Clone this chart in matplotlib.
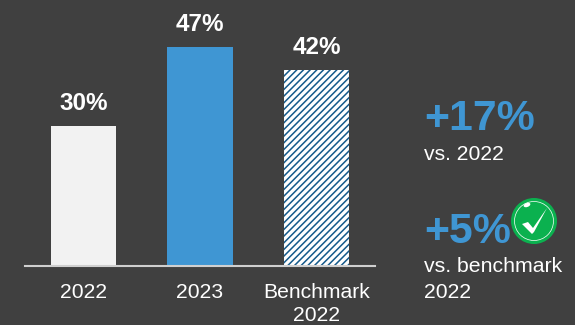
import matplotlib
matplotlib.use("Agg")
import matplotlib.pyplot as plt
from matplotlib.patches import Circle, Ellipse

plt.rcParams['font.family'] = ['Liberation Sans', 'DejaVu Sans']
plt.rcParams['hatch.linewidth'] = 1.1

categories = ["2022", "2023", "Benchmark\n2022"]
values = [30, 47, 42]
value_labels = ["30%", "47%", "42%"]

bg = "#404040"
blue = "#3f96d3"

fig = plt.figure(figsize=(5.75, 3.25), dpi=100, facecolor=bg)

# bar panel, bottom edge sits on the baseline
ax = fig.add_axes([25/575, (325-266)/325, 350/575, 266/325])
ax.set_facecolor("none")
ax.patch.set_alpha(0)

ax.bar(0, values[0], width=0.56, color="#f2f2f2")
ax.bar(1, values[1], width=0.56, color=blue)
ax.bar(2, values[2], width=0.56, facecolor="white", edgecolor="#14598a",
       hatch="/////", linewidth=0)

for i in range(len(values)):
    ax.text(i, values[i] + 2.3, value_labels[i], ha="center", va="bottom",
            color="white", fontsize=17.5, fontweight="bold")

ax.set_xlim(-0.5, 2.5)
ax.set_ylim(0, 57)
ax.set_yticks([])
ax.set_xticks(range(len(categories)))
ax.set_xticklabels(categories, color="white", fontsize=15.2, linespacing=1.32)
ax.tick_params(axis="x", length=0, pad=12)
for s in ["top", "left", "right"]:
    ax.spines[s].set_visible(False)
ax.spines["bottom"].set_color("#d0d0d0")
ax.spines["bottom"].set_linewidth(1.5)

# overlay in pixel units for the callouts on the right
ov = fig.add_axes([0, 0, 1, 1])
ov.set_xlim(0, 575)
ov.set_ylim(325, 0)
ov.axis("off")

ov.text(424, 119, "+17%", color=blue, fontsize=30.8, fontweight="bold", va="center", ha="left")
ov.text(424, 154, "vs. 2022", color="white", fontsize=15.2, va="center", ha="left")
ov.text(424, 232, "+5%", color=blue, fontsize=30.8, fontweight="bold", va="center", ha="left")
ov.text(424, 266, "vs. benchmark", color="white", fontsize=15.3, va="center", ha="left")
ov.text(424, 292, "2022", color="white", fontsize=15.2, va="center", ha="left")

# green check badge
ov.add_patch(Circle((534, 221), 23, facecolor="#0bb14f", edgecolor="none"))
ov.add_patch(Circle((534, 221), 19.5, facecolor="none", edgecolor="white", linewidth=0.5))
ov.fill([522, 528, 533, 547, 534, 532],
        [224, 222, 228, 208, 232, 234], color="white", lw=0)
ov.add_patch(Ellipse((527, 205), 7, 4, angle=-20, facecolor="white", edgecolor="none"))

fig.savefig("out.png", dpi=100, facecolor=bg)
